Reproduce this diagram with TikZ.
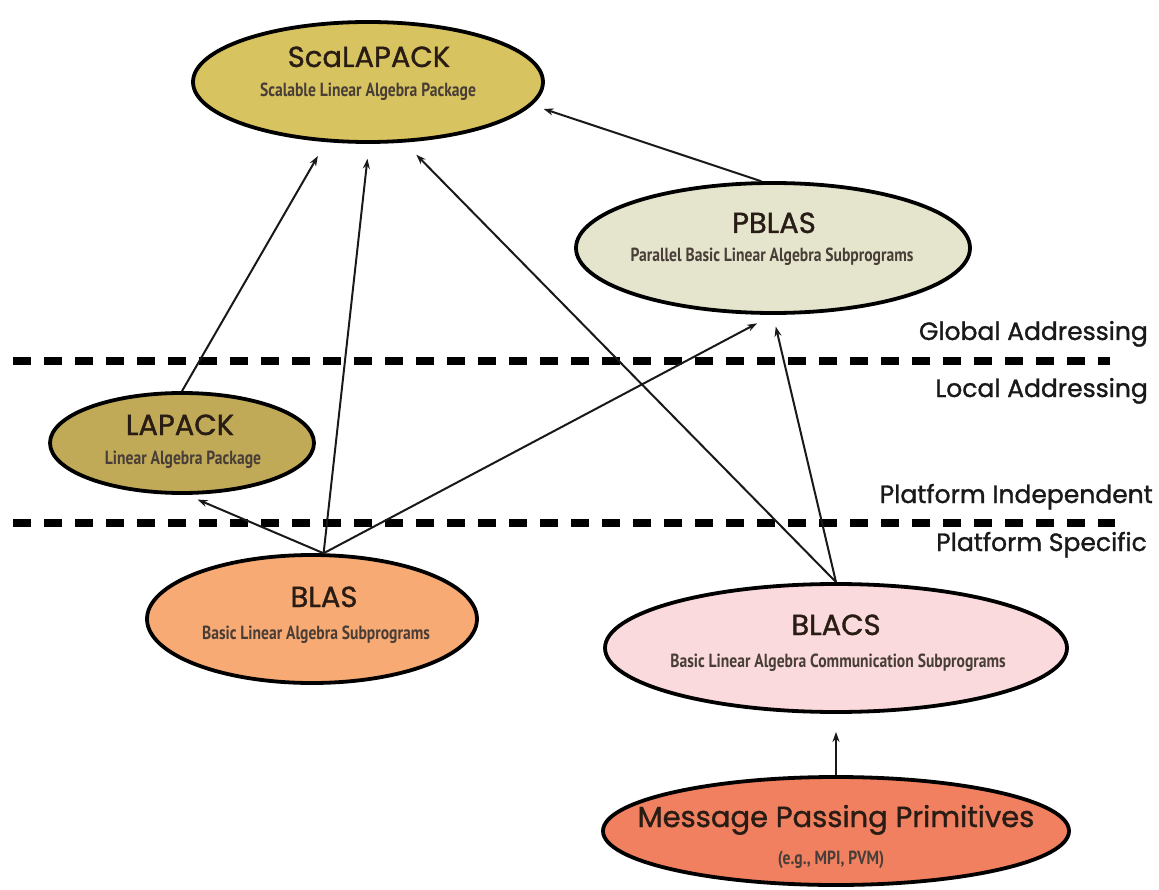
\documentclass[tikz,border=0pt]{standalone}
\usepackage{fontspec}
\usetikzlibrary{shapes.geometric,arrows.meta}
\newfontfamily\titlef[FakeBold=1.2]{Poppins}
\newfontfamily\subf[FakeStretch=0.82]{PT Sans}
\definecolor{cSca}{RGB}{215,195,95}
\definecolor{cPblas}{RGB}{229,229,206}
\definecolor{cLapack}{RGB}{192,170,88}
\definecolor{cBlas}{RGB}{247,170,115}
\definecolor{cBlacs}{RGB}{250,218,220}
\definecolor{cMpp}{RGB}{240,128,96}
\definecolor{ink}{RGB}{40,28,20}
\tikzset{
  ell/.style={ellipse, draw=black, line width=3.8pt, inner sep=0pt},
  ttl/.style={anchor=base, font=\titlef\fontsize{29}{29}\selectfont, text=ink, inner sep=0pt},
  sub/.style={anchor=base, font=\subf\bfseries\fontsize{19}{19}\selectfont, text=ink!85, inner sep=0pt},
  lvl/.style={anchor=base east, font=\titlef\fontsize{25}{25}\selectfont, text=black!90, inner sep=0pt},
  arr/.style={-{Stealth[length=10pt,width=7pt]}, line width=2pt, draw=black!90},
  sep/.style={line width=8pt, dash pattern=on 18pt off 13pt, draw=black}
}
\begin{document}
\begin{tikzpicture}[x=1pt,y=-1pt]
\useasboundingbox (0,0) rectangle (1159,890);
\fill[white] (0,0) rectangle (1159,890);

% level separators
\coordinate (g1) at (13,361);
\coordinate (g2) at (1110,361);
\coordinate (p1) at (13,523);
\coordinate (p2) at (1115,523);
\draw[sep] (g1) -- (g2);
\draw[sep] (p1) -- (p2);

% ellipses
\node[ell, fill=cSca, minimum width=350pt, minimum height=120pt] (sca) at (368,82) {};
\node[ell, fill=cPblas, minimum width=394pt, minimum height=130pt] (pblas) at (773,248) {};
\node[ell, fill=cLapack, minimum width=264pt, minimum height=100pt] (lapack) at (182,443) {};
\node[ell, fill=cBlas, minimum width=330pt, minimum height=128pt] (blas) at (312,619) {};
\node[ell, fill=cBlacs, minimum width=462pt, minimum height=128pt] (blacs) at (836,648) {};
\node[ell, fill=cMpp, minimum width=466pt, minimum height=108pt] (mpp) at (836,831) {};

% texts
\node[ttl] (scaT) at (369,67) {ScaLAPACK};
\node[sub] (scaS) at (368,97) {Scalable Linear Algebra Package};
\node[ttl] (pblasT) at (774,233) {PBLAS};
\node[sub] (pblasS) at (772,262) {Parallel Basic Linear Algebra Subprograms};
\node[ttl] (lapackT) at (180,435) {LAPACK};
\node[sub] (lapackS) at (183,464) {Linear Algebra Package};
\node[ttl] (blasT) at (324,607) {BLAS};
\node[sub] (blasS) at (316,639) {Basic Linear Algebra Subprograms};
\node[ttl] (blacsT) at (836,635) {BLACS};
\node[sub] (blacsS) at (838,667) {Basic Linear Algebra Communication Subprograms};
\node[ttl] (mppT) at (836,827) {Message Passing Primitives};
\node[sub] (mppS) at (831,864) {(e.g., MPI, PVM)};

% level labels
\node[lvl] (glob) at (1148,340) {Global Addressing};
\node[lvl] (loc) at (1148,397) {Local Addressing};
\node[lvl] (pind) at (1153,503) {Platform Independent};
\node[lvl] (pspec) at (1147,551) {Platform Specific};

% connectors
\draw[arr, shorten >=16pt] (lapack.north) -- (sca.235);
\draw[arr, shorten >=15pt] (blas.80) -- (sca.271);
\draw[arr, shorten >=17pt] (blacs.north) -- (sca.301);
\draw[arr, shorten >=12pt] (pblas.100) -- (sca.352);
\draw[arr, shorten >=12pt] (blas.80) -- (lapack.275);
\draw[arr, shorten >=18pt] (blas.80) -- (pblas.south);
\draw[arr, shorten >=12pt] (blacs.north) -- (pblas.south);
\draw[arr, shorten >=18pt] (mpp.north) -- (blacs.south);
\end{tikzpicture}
\end{document}
